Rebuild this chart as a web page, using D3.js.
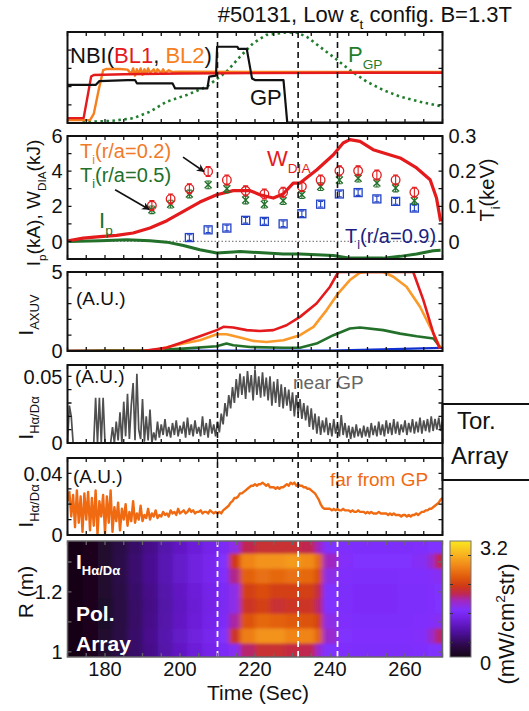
<!DOCTYPE html>
<html>
<head>
<meta charset="utf-8">
<script src="https://cdn.jsdelivr.net/npm/d3@7/dist/d3.min.js"></script>
<style>
  body { margin: 0; background: #fff; }
  svg text { font-family: "Liberation Sans", Arial, sans-serif; }
</style>
</head>
<body>
<svg id="chart" width="529" height="711"></svg>
<script>
// ---------------- data ----------------
const dashTimes = [210, 231.5, 242];
const timeTicks = [180, 200, 220, 240, 260];

// panel 1 : heating / gas puff waveforms (a.u.)
const gpCmd = [[170,2.09],[177.5,2.09],[178.5,2.3],[186,2.36],[188,2.36],[188.5,2.18],[198,2.18],[198.7,1.9],[207.3,1.9],[207.8,2.55],[209.6,2.6],[209.9,4.19],[215.3,4.19],[215.6,4.07],[217.8,4.07],[219.2,2.45],[220,2.36],[227.6,2.36],[228.6,0.02],[270,0.02]];
const nbiBL1 = [[170,0.27],[174.3,0.27],[175.3,1.4],[176.3,2.55],[177,2.64],[185,2.68],[200,2.72],[220,2.74],[245,2.76],[270,2.76]];
const nbiBL2 = [[170,0.16],[176,0.16],[177,0.5],[178.3,1.8],[179.5,2.9],[180.5,2.97],[184,2.97],[186,2.93],[187,2.7],[187.5,3.0],[188,2.6],[188.5,2.95],[189,2.7],[189.5,3.0],[190,2.65],[190.5,2.95],[191,2.7],[191.5,3.0],[192,2.75],[193,2.95],[193.5,2.7],[194,2.95],[195,2.75],[195.5,2.95],[196,2.75],[197,2.9],[198,2.8],[200,2.82],[230,2.8],[270,2.8]];
const pGP = [[174,0.02],[176,0.07],[182,0.12],[187.5,0.26],[192,0.62],[196.4,1.17],[201.8,1.54],[207.1,1.99],[212.4,2.82],[216,3.64],[219.5,4.38],[223,4.84],[228.5,4.98],[231,4.98],[233.8,4.74],[237.3,4.19],[240.8,3.64],[245.3,2.91],[249.8,2.27],[254.2,1.81],[258.7,1.45],[264,1.17],[269.3,0.93]];

// panel 2 : W_DIA (kJ), Ip (kA), Ti (keV)
const wDia = [[170.2,0.04],[174.2,0.19],[178.7,0.27],[183.1,0.34],[187.5,0.48],[192,0.76],[196.5,1.18],[200.9,1.71],[205.3,2.24],[209.8,2.66],[214.2,2.89],[218.7,2.89],[221.3,2.66],[224.9,2.47],[227.5,2.7],[230.2,3.32],[232,3.32],[236.5,4.08],[240.9,4.93],[243.5,5.6],[245.3,5.79],[248,5.69],[251.5,5.22],[258.7,4.75],[263.1,4.18],[266.7,3.51],[268.4,2.47],[269.5,1.14]];
const ip = [[170.2,0],[178.7,0.04],[185.8,0.1],[192,0.04],[196.5,-0.04],[200.9,-0.23],[205.3,-0.47],[209.8,-0.66],[214.2,-0.6],[216,-0.57],[223.1,-0.66],[227.5,-0.72],[232,-0.72],[240.9,-0.8],[245.3,-0.95],[249.8,-0.95],[254.2,-0.95],[258.7,-0.85],[263.1,-0.72],[267.5,-0.53],[269.5,-0.5]];
const tiTimes = [192.5,197.5,202.5,207.5,212.5,217.5,222.5,227.5,232.5,237.5,242.5,247.5,252.5,257.5,262.5];
const ti02 = [0.102,0.121,0.150,0.199,0.175,0.144,0.135,0.140,0.156,0.175,0.201,0.201,0.189,0.175,0.140];
const ti05 = [0.090,0.106,0.135,0.161,0.150,0.118,0.106,0.116,0.133,0.156,0.175,0.180,0.166,0.152,0.116];
const ti09 = [null,null,0.011,0.033,0.038,0.060,0.057,0.050,0.079,0.106,0.135,0.139,0.121,0.114,0.095];
const tiErr = { r02: 0.014, r05: 0.011, r09: 0.008 };

// panel 3 : AXUV (a.u.)
const axuvRed = [[170,0],[190,0],[192.9,0.09],[196.4,0.21],[200.9,0.57],[205.3,0.93],[209.8,1.32],[211.6,1.53],[214.2,1.49],[217.8,1.32],[221.3,1.27],[224.9,1.32],[228.4,1.63],[232,2.16],[236.4,3.01],[240,4.07],[242.2,5],[262.2,5],[264.9,3.22],[267.6,1.1],[269.3,0.15]];
const axuvOrange = [[170,0],[190,0],[192.9,0.04],[200.9,0.47],[205.3,0.68],[209.8,1.06],[212.4,1.06],[216,0.85],[219.6,0.64],[223.1,0.57],[227.6,0.68],[232,1.0],[235.6,1.53],[239.1,2.59],[242.2,3.65],[245.3,4.49],[248,4.96],[249.8,5],[254.2,5],[256.9,4.7],[260.4,4.07],[264,2.8],[267.6,1.1],[269.3,0.25]];
const axuvGreen = [[170,0],[181.3,0.04],[192,0.04],[200.9,0.15],[209.8,0.3],[212.4,0.47],[214.2,0.36],[218.7,0.25],[227.6,0.21],[232,0.21],[236.4,0.47],[240.9,1.0],[245.3,1.42],[248,1.49],[254.2,1.32],[258.7,1.1],[263.1,0.93],[267.6,0.79],[269.5,0.21]];
const axuvBlue = [[170,0],[240,0.02],[254,0.1],[262,0.15],[270,0.2]];

// panels 4,5 : H-alpha / D-alpha, sampled every 0.5 s from 170 s, units of 1e-3
const sampleStart = 170, sampleStep = 0.5;
const nearGP = [
  0,28,20,0,0,0,0,0,0,0,
  0,0,0,0,0,34,0,34,0,34,
  0,0,0,0,12,0,16,2,23,0,
  31,5,37,3,28,45,2,52,10,3,
  33,1,20,2,25,0,8,2,16,4,
  14,6,18,5,12,4,15,6,17,5,
  13,7,16,4,19,6,14,5,17,7,
  12,5,20,6,15,4,18,7,14,5,
  16,8,22,14,30,20,36,26,42,30,
  48,34,52,36,50,33,54,38,51,32,
  55,36,50,34,53,35,49,32,50,28,
  46,30,48,27,44,26,42,28,40,24,
  38,20,36,22,33,18,30,17,28,12,
  26,10,22,7,20,6,17,8,19,6,
  15,5,18,7,14,5,21,6,15,4,
  13,3,12,4,14,5,11,4,13,5,
  12,4,15,6,13,5,16,6,14,5,
  17,7,15,6,18,7,16,6,14,8,
  17,6,15,8,18,7,16,8,19,7,
  17,9,18,8,20,9,18,10,19,9,
  17];
const farGP = [
  22,28,12,26,5,29,8,25,2,27,
  10,28,3,24,6,29,0,22,12,26,
  1,25,8,29,2,18,9,21,3,17,
  10,20,6,15,9,22,8,14,10,19,
  9,13,11,17,10,14,12,16,11,13,
  12,15,13,14,12,16,14,15,13,17,
  14,15,16,14,15,17,15,16,14,15,
  15,16,14,15,15,14,16,15,14,15,
  14,15,14,16,17,18,19,21,22,24,
  24,25,27,27,28,29,30,31,32,32,
  33,32,33,33,34,33,32,33,31,31,
  31,30,31,30,31,31,32,33,32,34,
  33,34,32,33,32,32,31,31,30,30,
  29,28,27,25,23,20,18,17,17,17,
  17,16,17,16,17,16,16,17,16,16,
  16,15,16,15,15,16,15,15,15,14,
  15,14,15,14,14,14,15,14,14,14,
  14,13,14,13,14,13,13,13,12,13,
  13,12,13,12,13,13,14,13,14,15,
  15,16,16,17,17,18,19,20,21,23,
  24];

// panel 6 : poloidal array image (mW/cm^2 str)
const hmTimeEdges = [170,174,178,182,186,190,194,198,202,206,210,213,216,220,224,228,232,236,238,242,246,250,254,258,262,266,268,270];
const hmREdges = [0.983,1.03,1.08,1.13,1.18,1.23,1.28,1.33,1.37];
const hmValues = [
  [0.02,0.02,0.02,0.02,0.02,0.02,0.02,0.02],
  [0.06,0.06,0.06,0.06,0.06,0.06,0.06,0.06],
  [0.15,0.15,0.14,0.14,0.15,0.16,0.16,0.15],
  [0.3,0.3,0.28,0.28,0.3,0.32,0.32,0.3],
  [0.45,0.46,0.44,0.44,0.46,0.48,0.48,0.45],
  [0.6,0.62,0.6,0.58,0.6,0.64,0.64,0.6],
  [0.75,0.78,0.75,0.74,0.76,0.8,0.8,0.76],
  [0.9,0.92,0.9,0.88,0.9,0.94,0.94,0.9],
  [1.02,1.05,1.02,1.0,1.02,1.06,1.06,1.02],
  [1.12,1.15,1.12,1.1,1.12,1.16,1.16,1.12],
  [1.22,1.3,1.25,1.2,1.22,1.28,1.3,1.22],
  [1.35,1.9,1.6,1.4,1.4,1.65,1.95,1.4],
  [1.7,2.45,2.15,1.9,2.0,2.25,2.5,1.75],
  [1.85,2.6,2.3,2.0,2.1,2.35,2.6,1.85],
  [1.85,2.6,2.25,1.85,2.0,2.3,2.6,1.85],
  [1.8,2.5,2.2,1.9,2.0,2.35,2.65,1.85],
  [1.75,2.5,2.15,1.9,2.0,2.3,2.55,1.75],
  [1.5,2.25,2.0,1.7,1.8,2.1,2.3,1.55],
  [1.3,1.5,1.4,1.3,1.3,1.4,1.55,1.3],
  [1.28,1.3,1.28,1.26,1.26,1.28,1.32,1.28],
  [1.27,1.28,1.27,1.25,1.25,1.27,1.3,1.27],
  [1.27,1.28,1.26,1.25,1.25,1.27,1.3,1.27],
  [1.27,1.28,1.26,1.25,1.25,1.27,1.3,1.27],
  [1.27,1.29,1.27,1.26,1.26,1.28,1.3,1.27],
  [1.28,1.32,1.28,1.26,1.26,1.28,1.34,1.28],
  [1.3,1.5,1.32,1.28,1.28,1.32,1.5,1.3],
  [1.3,1.7,1.35,1.3,1.3,1.35,1.75,1.3]];
const cmapValues = [0, 0.3, 0.7, 1.1, 1.3, 1.55, 1.75, 1.95, 2.2, 2.5, 2.8, 3.2];
const cmapColors = ["#160616","#2a0845","#4f10a0","#7422e6","#8030ff","#a028c0","#c02850","#d03818","#e05a0c","#f08418","#f8b020","#fae61e"];
const cbTicks = [0.4, 1.2, 2.0, 2.8];

// ---------------- layout ----------------
const svg = d3.select("#chart");
const x = d3.scaleLinear().domain([170, 270]).range([67.5, 442.5]);
const black = "#111";
const cRed = "#e41a1c", cGreen = "#22702a", cNavy = "#1c1f80", cBlue = "#2343c8";

const defs = svg.append("defs");
defs.append("marker").attr("id", "arrow").attr("viewBox", "0 0 10 10")
  .attr("refX", 9).attr("refY", 5).attr("markerWidth", 5).attr("markerHeight", 5)
  .attr("orient", "auto").append("path").attr("d", "M0,0 L10,5 L0,10 L3,5 Z").attr("fill", black);

function panel(id, top, bottom, domain, yTicks) {
  const y = d3.scaleLinear().domain(domain).range([bottom, top]);
  defs.append("clipPath").attr("id", "clip" + id).append("rect")
    .attr("x", x.range()[0]).attr("y", top).attr("width", x.range()[1] - x.range()[0]).attr("height", bottom - top);
  const g = svg.append("g");
  const plot = g.append("g").attr("clip-path", `url(#clip${id})`);
  return { y, g, plot, top, bottom, yTicks };
}

function frame(p, color = black, sw = 2) {
  const [x0, x1] = x.range();
  const t = d3.range(170, 271, 5);
  p.g.selectAll(null).data(t).enter().append("path")
    .attr("d", d => `M${x(d)},${p.top}v4M${x(d)},${p.bottom}v-4`)
    .attr("stroke", color).attr("stroke-width", 1.3);
  p.g.selectAll(null).data(p.yTicks).enter().append("path")
    .attr("d", d => `M${x0},${p.y(d)}h4M${x1},${p.y(d)}h-4`)
    .attr("stroke", color).attr("stroke-width", 1.3);
  p.g.append("rect").attr("x", x0).attr("y", p.top).attr("width", x1 - x0).attr("height", p.bottom - p.top)
    .attr("fill", "none").attr("stroke", color).attr("stroke-width", sw);
}

function line(p, data, color, width, dash, join) {
  const gen = d3.line().x(d => x(d[0])).y(d => p.y(d[1]));
  p.plot.append("path").datum(data).attr("d", gen).attr("fill", "none")
    .attr("stroke", color).attr("stroke-width", width)
    .attr("stroke-dasharray", dash || null).attr("stroke-linejoin", join || "round");
}

function rich(parent, xp, yp, parts, size, opts = {}) {
  const t = parent.append("text").attr("x", xp).attr("y", yp).attr("font-size", size)
    .attr("fill", opts.fill || black).attr("font-weight", opts.bold ? "bold" : null)
    .attr("text-anchor", opts.anchor || "start");
  if (opts.rotate) t.attr("transform", `rotate(-90,${xp},${yp})`);
  let shift = 0;
  parts.forEach(([s, kind, fill]) => {
    const target = kind === "sub" ? size * 0.3 : kind === "sup" ? -size * 0.4 : 0;
    t.append("tspan").attr("dy", target - shift)
      .attr("font-size", kind ? size * 0.62 : null).attr("fill", fill || null).text(s);
    shift = target;
  });
  return t;
}

function yLabels(p, vals, fmt, side) {
  const xp = side === "left" ? x.range()[0] - 5 : x.range()[1] + 6;
  p.g.selectAll(null).data(vals).enter().append("text")
    .attr("x", xp).attr("y", d => p.y(d)).attr("dy", "0.36em")
    .attr("text-anchor", side === "left" ? "end" : "start")
    .attr("font-size", 20).attr("fill", black).text(fmt);
}

// ---------------- panel 1 ----------------
const p1 = panel(1, 32, 123, [0, 5], [0, 1, 2, 3, 4, 5]);
line(p1, pGP, "#1f7d2c", 2.6, "2.5,3.5");
line(p1, nbiBL2, "#f7801e", 2.4);
line(p1, nbiBL1, cRed, 2.4);
line(p1, gpCmd, black, 2.2);
rich(p1.g, 70, 63, [["NBI("], ["BL1", null, cRed], [", "], ["BL2", null, "#f7801e"], [")"]], 22);
rich(p1.g, 250, 105, [["GP"]], 22);
rich(p1.g, 348, 62, [["P"], ["GP", "sub"]], 22, { fill: "#1f7d2c" });

// ---------------- panel 2 ----------------
const p2 = panel(2, 136, 259, [-1, 6], [-1, 0, 1, 2, 3, 4, 5, 6]);
const yTi = d3.scaleLinear().domain([-0.05, 0.3]).range([259, 136]);
p2.plot.append("line").attr("x1", x(170)).attr("x2", x(270)).attr("y1", p2.y(0)).attr("y2", p2.y(0))
  .attr("stroke", "#888").attr("stroke-width", 1.2).attr("stroke-dasharray", "1.5,2");
line(p2, ip, cGreen, 3);
line(p2, wDia, cRed, 3.2);

function errBars(vals, err, color) {
  const pts = tiTimes.map((t, i) => [t, vals[i]]).filter(d => d[1] != null);
  p2.plot.selectAll(null).data(pts).enter().append("path")
    .attr("d", d => `M${x(d[0])},${yTi(d[1] - err)}V${yTi(d[1] + err)}M${x(d[0]) - 2.5},${yTi(d[1] - err)}h5M${x(d[0]) - 2.5},${yTi(d[1] + err)}h5`)
    .attr("stroke", color).attr("stroke-width", 1.1).attr("fill", "none");
  return pts;
}
const pts09 = errBars(ti09, tiErr.r09, cBlue);
p2.plot.selectAll(null).data(pts09).enter().append("rect")
  .attr("x", d => x(d[0]) - 4).attr("y", d => yTi(d[1]) - 4).attr("width", 8).attr("height", 8)
  .attr("fill", "none").attr("stroke", cBlue).attr("stroke-width", 1.3);
const pts05 = errBars(ti05, tiErr.r05, cGreen);
p2.plot.selectAll(null).data(pts05).enter().append("path")
  .attr("d", d => `M${x(d[0]) - 3.5},${yTi(d[1]) - 3.5}l7,7M${x(d[0]) - 3.5},${yTi(d[1]) + 3.5}l7,-7`)
  .attr("stroke", cGreen).attr("stroke-width", 1.4);
const pts02 = errBars(ti02, tiErr.r02, cRed);
p2.plot.selectAll(null).data(pts02).enter().append("circle")
  .attr("cx", d => x(d[0])).attr("cy", d => yTi(d[1])).attr("r", 4.3)
  .attr("fill", "none").attr("stroke", cRed).attr("stroke-width", 1.3);

rich(p2.g, 80, 158, [["T"], ["i", "sub"], ["(r/a=0.2)"]], 20, { fill: "#f07a28" });
rich(p2.g, 80, 182, [["T"], ["i", "sub"], ["(r/a=0.5)"]], 20, { fill: cGreen });
rich(p2.g, 267, 166, [["W"], ["DIA", "sub"]], 22, { fill: cRed });
rich(p2.g, 99, 228, [["I"], ["p", "sub"]], 22, { fill: cGreen });
rich(p2.g, 345, 243, [["T"], ["i", "sub"], ["(r/a=0.9)"]], 20, { fill: cNavy });
[[[200.8, 0.24], [206.4, 0.199]], [[182.7, 0.147], [191.8, 0.091]]].forEach(([a, b]) => {
  p2.g.append("line").attr("x1", x(a[0])).attr("y1", yTi(a[1])).attr("x2", x(b[0])).attr("y2", yTi(b[1]))
    .attr("stroke", black).attr("stroke-width", 1.6).attr("marker-end", "url(#arrow)");
});
yLabels(p2, [0, 2, 4, 6], d => d, "left");
p2.g.selectAll(null).data([0, 0.1, 0.2, 0.3]).enter().append("text")
  .attr("x", x.range()[1] + 6).attr("y", d => yTi(d)).attr("dy", "0.36em")
  .attr("font-size", 20).attr("fill", black).text(d => d);

// ---------------- panel 3 ----------------
const p3 = panel(3, 272, 351, [0, 5], [0, 1, 2, 3, 4, 5]);
line(p3, axuvBlue, "#1030d0", 2.4);
line(p3, axuvGreen, cGreen, 2.6);
line(p3, axuvOrange, "#f99a2a", 2.6);
line(p3, axuvRed, cRed, 2.6);
yLabels(p3, [0, 5], d => d, "left");
rich(p3.g, 76, 305, [["(A.U.)"]], 19);

// ---------------- panel 4 ----------------
const sampleLine = (arr) => arr.map((v, i) => [sampleStart + i * sampleStep, v * 1e-3]);
const p4 = panel(4, 365, 443, [0, 0.0585], [0, 0.01, 0.02, 0.03, 0.04, 0.05]);
line(p4, sampleLine(nearGP), "#4f4f4f", 1.7, null, "miter");
yLabels(p4, [0, 0.05], d => d, "left");
rich(p4.g, 75, 383, [["(A.U.)"]], 19);
rich(p4.g, 293, 389, [["near GP"]], 19, { fill: "#666" });

// ---------------- panel 5 ----------------
const p5 = panel(5, 458, 535, [0, 0.05], [0, 0.01, 0.02, 0.03, 0.04, 0.05]);
line(p5, sampleLine(farGP), "#f06a12", 2.4);
yLabels(p5, [0, 0.04], d => d, "left");
rich(p5.g, 73, 483, [["(A.U.)"]], 19);
rich(p5.g, 330, 486, [["far from GP"]], 19, { fill: "#f06a12" });

// dashed markers through panels 1-5
svg.append("g").selectAll(null).data(dashTimes).enter().append("line")
  .attr("x1", d => x(d)).attr("x2", d => x(d)).attr("y1", 32).attr("y2", 535)
  .attr("stroke", black).attr("stroke-width", 1.6).attr("stroke-dasharray", "6,4");

[p1, p2, p3, p4, p5].forEach(p => frame(p));

// Tor. Array box
svg.append("path").attr("d", `M529,404H${x.range()[1]}V480H529`).attr("fill", "none")
  .attr("stroke", black).attr("stroke-width", 2);
rich(svg, 457, 429, [["Tor."]], 24);
rich(svg, 451, 464, [["Array"]], 24);

// ---------------- panel 6 (heatmap) ----------------
const p6 = panel(6, 541, 657, [0.983, 1.37], [1.0, 1.1, 1.2, 1.3]);
const color = d3.scaleLinear().domain(cmapValues).range(cmapColors).clamp(true);
defs.append("filter").attr("id", "soft").attr("x", "-5%").attr("y", "-5%").attr("width", "110%").attr("height", "110%")
  .append("feGaussianBlur").attr("stdDeviation", "2.5 1.8");
const hm = p6.plot.append("g").attr("filter", "url(#soft)");
hmValues.forEach((col, i) => {
  const x0 = x(hmTimeEdges[i]) - (i === 0 ? 10 : 0);
  const x1 = x(hmTimeEdges[i + 1]) + (i === hmValues.length - 1 ? 10 : 0);
  col.forEach((v, j) => {
    const y0 = p6.y(hmREdges[j + 1]) - (j === col.length - 1 ? 10 : 0);
    const y1 = p6.y(hmREdges[j]) + (j === 0 ? 10 : 0);
    hm.append("rect").attr("x", x0).attr("y", y0).attr("width", x1 - x0 + 0.6).attr("height", y1 - y0 + 0.6)
      .attr("fill", color(v));
  });
});
p6.plot.selectAll(null).data(dashTimes).enter().append("line")
  .attr("x1", d => x(d)).attr("x2", d => x(d)).attr("y1", p6.top).attr("y2", p6.bottom)
  .attr("stroke", "#fff").attr("stroke-width", 1.8).attr("stroke-dasharray", "6,4");
frame(p6, "#666", 1.5);
yLabels(p6, [1, 1.2], d => d, "left");
rich(p6.g, 76, 569, [["I"], ["Hα/Dα", "sub"]], 21, { fill: "#fff", bold: true });
rich(p6.g, 76, 621, [["Pol."]], 21, { fill: "#fff", bold: true });
rich(p6.g, 76, 651, [["Array"]], 21, { fill: "#fff", bold: true });

// time axis labels
svg.append("g").selectAll(null).data(timeTicks).enter().append("text")
  .attr("x", d => x(d)).attr("y", 676).attr("text-anchor", "middle")
  .attr("font-size", 20).attr("fill", black).text(d => d);
rich(svg, 258, 700, [["Time (Sec)"]], 21, { anchor: "middle" });

// colorbar
const cb = d3.scaleLinear().domain([0, 3.2]).range([657, 541]);
const grad = defs.append("linearGradient").attr("id", "cbgrad").attr("x1", 0).attr("y1", 1).attr("x2", 0).attr("y2", 0);
cmapValues.forEach((v, i) => grad.append("stop").attr("offset", v / 3.2).attr("stop-color", cmapColors[i]));
svg.append("rect").attr("x", 450).attr("y", 541).attr("width", 21).attr("height", 116)
  .attr("fill", "url(#cbgrad)").attr("stroke", "#777").attr("stroke-width", 1);
svg.selectAll(null).data(cbTicks).enter().append("path")
  .attr("d", d => `M450,${cb(d)}h3M471,${cb(d)}h-3`).attr("stroke", "#333").attr("stroke-width", 1);
rich(svg, 480, 555, [["3.2"]], 20);
rich(svg, 480, 670, [["0"]], 20);
rich(svg, 514, 624, [["(mW/cm"], ["2", "sup"], ["str)"]], 22, { rotate: true, anchor: "middle" });

// y-axis titles
rich(svg, 40, 203, [["I"], ["p", "sub"], ["(kA), W"], ["DIA", "sub"], ["(kJ)"]], 19, { rotate: true, anchor: "middle" });
rich(svg, 494, 190, [["T"], ["i", "sub"], ["(keV)"]], 20, { rotate: true, anchor: "middle" });
rich(svg, 33, 315, [["I"], ["AXUV", "sub"]], 21, { rotate: true, anchor: "middle" });
rich(svg, 33, 418, [["I"], ["Hα/Dα", "sub"]], 21, { rotate: true, anchor: "middle" });
rich(svg, 33, 506, [["I"], ["Hα/Dα", "sub"]], 21, { rotate: true, anchor: "middle" });
rich(svg, 33, 592, [["R (m)"]], 21, { rotate: true, anchor: "middle" });

// title
rich(svg, 512, 22, [["#50131, Low ε"], ["t", "sub"], [" config. B=1.3T"]], 22, { anchor: "end" });
</script>
</body>
</html>
